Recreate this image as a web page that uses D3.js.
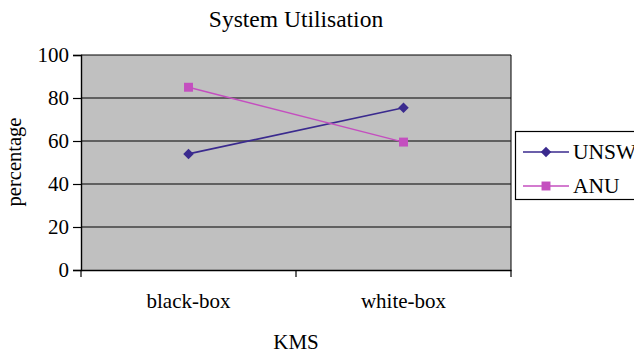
<!DOCTYPE html>
<html><head><meta charset="utf-8">
<script src="https://cdn.jsdelivr.net/npm/d3@7"></script>
<style>body{margin:0;background:#fff}svg{display:block}</style>
</head><body>
<svg id="c" width="634" height="353"></svg>
<script>
const categories = ["black-box", "white-box"];
const unsw = [54, 75.5];
const anu = [85, 59.5];
const yTicks = [0, 20, 40, 60, 80, 100];
const seriesNames = ["UNSW", "ANU"];

const svg = d3.select("#c");
const font = "'Liberation Serif','Times New Roman',serif";
const L = 81, R = 511, T = 55, B = 270;
const x = d3.scaleBand().domain(categories).range([L, R]);
const y = d3.scaleLinear().domain([0, 100]).range([B, T]);

svg.append("rect").attr("x", L).attr("y", T).attr("width", R - L).attr("height", B - T).attr("fill", "#c0c0c0");
svg.append("g").selectAll("line").data(yTicks.filter(d => d > 0)).join("line")
  .attr("x1", L).attr("x2", R).attr("y1", d => y(d)).attr("y2", d => y(d))
  .attr("stroke", "#000").attr("stroke-width", 1.2);
svg.append("line").attr("x1", R).attr("x2", R).attr("y1", T).attr("y2", B).attr("stroke", "#000").attr("stroke-width", 1);

const ya = svg.append("g").attr("transform", `translate(${L},0)`)
  .call(d3.axisLeft(y).tickValues(yTicks).tickSize(8).tickPadding(4));
ya.select(".domain").attr("stroke", "#000").attr("stroke-width", 1.4);
ya.selectAll("line").attr("stroke", "#000").attr("stroke-width", 1.2);
ya.selectAll("text").attr("font-family", font).attr("font-size", 21).attr("fill", "#000");

const xa = svg.append("g").attr("transform", `translate(0,${B})`)
  .call(d3.axisBottom(x).tickSize(0).tickPadding(23));
xa.select(".domain").attr("stroke", "#000").attr("stroke-width", 1.4);
xa.selectAll("text").attr("font-family", font).attr("font-size", 21).attr("fill", "#000");
const bounds = [L, x(categories[1]), R];
svg.append("g").selectAll("line").data(bounds).join("line")
  .attr("x1", d => d).attr("x2", d => d).attr("y1", B).attr("y2", B + 7)
  .attr("stroke", "#000").attr("stroke-width", 1.2);

const cx = d => x(d) + x.bandwidth() / 2;
const line = d3.line().x((d, i) => cx(categories[i])).y(d => y(d));
const colU = "#3a2a8e", colA = "#c44fbf";

svg.append("path").datum(unsw).attr("d", line).attr("fill", "none").attr("stroke", colU).attr("stroke-width", 1.6);
svg.append("path").datum(anu).attr("d", line).attr("fill", "none").attr("stroke", colA).attr("stroke-width", 1.4);

const diamond = d3.symbol().type(d3.symbolDiamond2).size(70);
const square = d3.symbol().type(d3.symbolSquare).size(80);
svg.append("g").selectAll("path").data(unsw).join("path")
  .attr("transform", (d, i) => `translate(${cx(categories[i])},${y(d)})`).attr("d", diamond).attr("fill", colU);
svg.append("g").selectAll("path").data(anu).join("path")
  .attr("transform", (d, i) => `translate(${cx(categories[i])},${y(d)})`).attr("d", square).attr("fill", colA);

svg.append("text").attr("x", 296).attr("y", 27).attr("text-anchor", "middle")
  .attr("font-family", font).attr("font-size", 23.5).text("System Utilisation");
svg.append("text").attr("x", 296).attr("y", 349).attr("text-anchor", "middle")
  .attr("font-family", font).attr("font-size", 21).text("KMS");
svg.append("text").attr("transform", "translate(21,162) rotate(-90)").attr("text-anchor", "middle")
  .attr("font-family", font).attr("font-size", 20.5).text("percentage");

const lg = svg.append("g");
lg.append("rect").attr("x", 515.5).attr("y", 131.5).attr("width", 130).attr("height", 68)
  .attr("fill", "#fff").attr("stroke", "#000").attr("stroke-width", 1.2);
const cols = [colU, colA], syms = [diamond, square];
seriesNames.forEach((n, i) => {
  const yy = 152 + i * 34;
  lg.append("line").attr("x1", 523).attr("x2", 569).attr("y1", yy).attr("y2", yy).attr("stroke", cols[i]).attr("stroke-width", 1.5);
  lg.append("path").attr("transform", `translate(546,${yy})`).attr("d", syms[i]).attr("fill", cols[i]);
  lg.append("text").attr("x", 573).attr("y", yy + 7).attr("font-family", font).attr("font-size", 21.5).text(n);
});
</script>
</body></html>
